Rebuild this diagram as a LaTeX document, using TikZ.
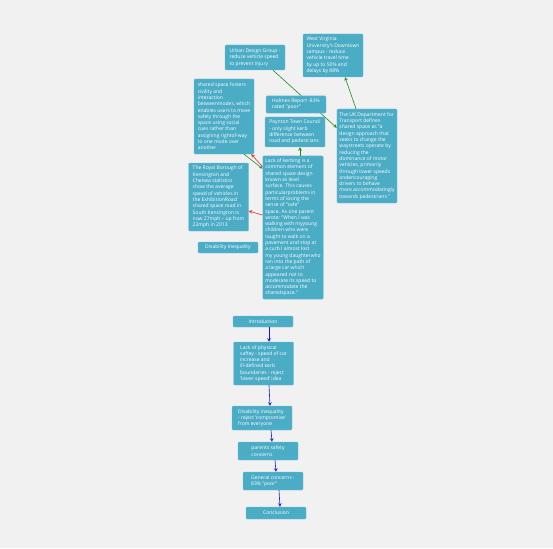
\documentclass[tikz,border=0pt]{standalone}
\usepackage{fontspec}
\setmainfont{Open Sans}
\usetikzlibrary{positioning}
\definecolor{paper}{RGB}{241,241,241}
\definecolor{boxfill}{RGB}{75,172,198}
\definecolor{boxline}{RGB}{120,196,216}
\definecolor{linkgreen}{RGB}{30,140,30}
\definecolor{linkred}{RGB}{240,40,40}
\definecolor{linkblue}{RGB}{20,20,230}
\pgfdeclarelayer{back}
\pgfsetlayers{back,main}

\begin{document}
\begin{tikzpicture}
[x=1pt,y=-1pt,>=stealth,box/.style = {draw = boxline, fill = boxfill, text = white, rounded corners = 1pt, align = left, inner xsep = 2.5pt, inner ysep = 3pt, minimum width = 60, font = \fontsize{5}{6.3}\selectfont},
green link/.style = {->, draw = linkgreen, line width = 0.6pt},
red link/.style = {->, draw = linkred, line width = 0.6pt},
blue link/.style = {->, draw = linkblue, line width = 0.6pt},]
\begin{pgfonlayer}{back}
\fill[paper] (0,0) rectangle (553,548);
\end{pgfonlayer}
\node (UDG) at (255,57.5)[box,minimum height=25] {Urban Design Group -\\reduce vehicle speed\\to prevent injury};
\node (WVU) at (333,55.5)[box,minimum height=43] {West Virginia\\University's Downtown\\campus - reduce\\vehicle travel time\\by up to 50\% and\\delays by 88\%};
\node (SSF) at (224,116.5)[box,minimum height=75] {shared space fosters\\civility and\\interaction\\betweenmodes, which\\enables users to move\\safely through the\\space using social\\cues rather than\\assigning rightof-way\\to one mode over\\another};
\node (HR) at (296,104.5)[box,minimum height=17] {Holmes Report -83\%\\rated "poor"};
\node (PTC) at (295,132)[box,minimum height=30] {Poynton Town Council\\- only slight kerb\\difference between\\road and pedestrians};
\node (DFT) at (367,156)[box,minimum height=94] {The UK Department for\\Transport defines\\shared space as "a\\design approach that\\seeks to change the\\waystreets operate by\\reducing the\\dominance of motor\\vehicles, primarily\\through lower speeds\\andencouraging\\drivers to behave\\more accommodatingly\\towards pedestrians."};
\node (LK) at (293,227.5)[box,minimum height=143] {Lack of kerbing is a\\common element of\\shared space design\\known as level\\surface. This causes\\particularproblems in\\terms of losing the\\sense of "safe"\\space. As one parent\\wrote: "When I was\\walking with myyoung\\children who were\\taught to walk on a\\pavement and stop at\\a curb I almost lost\\my young daughterwho\\ran into the path of\\a large car which\\appeared not to\\moderate its speed to\\accommodate the\\sharedspace."};
\node (RBK) at (218.5,197)[box,minimum height=68] {The Royal Borough of\\Kensington and\\Chelsea statistics\\show the average\\speed of vehicles in\\the ExhibitionRoad\\shared space road in\\South Kensington is\\now 27mph – up from\\22mph in 2013};
\node (DI) at (228,247.5)[box,minimum height=11] {Disability Inequality};
\node (I) at (263,321.5)[box,minimum height=11] {Introduction};
\node (LPS) at (263.5,363.5)[box,minimum height=43] {Lack of physical\\saftey - speed of car\\increase and\\ill-defined kerb\\boundaries - reject\\'lower speed' idea};
\node (DII) at (262,418)[box,minimum height=24] {Disability inequality\\- reject 'compromise'\\from everyone};
\node (PSC) at (268,451)[box,minimum height=18] {parents safety\\concerns};
\node (GC) at (273,481)[box,minimum height=18] {General concerns -\\83\% "poor"};
\node (C) at (276,513)[box,minimum height=12] {Conclusion};
\begin{pgfonlayer}{back}
\draw[green link] ([xshift=18]UDG.south)--([yshift=-19]DFT.north west);
\end{pgfonlayer}
\draw[green link] ([xshift=-11]DFT.north)--([xshift=12]WVU.south);
\draw[green link] ([xshift=7]LK.north)--([xshift=5]PTC.south);
\draw[green link] ([xshift=20]SSF.south)--([yshift=-13]LK.north west);
\draw[red link] ([yshift=-11]LK.north west)--([xshift=-3]SSF.south east);
\draw[red link] ([yshift=12.5]LK.west)--([yshift=-14]RBK.east);
\draw[blue link] ([xshift=6]I.south)--([xshift=5.5]LPS.north);
\draw[blue link] ([xshift=5.5]LPS.south)--([xshift=8]DII.north);
\draw[blue link] ([xshift=9]DII.south)--([xshift=4]PSC.north);
\draw[blue link] ([xshift=7]PSC.south)--([xshift=3]GC.north);
\draw[blue link] ([xshift=6]GC.south)--([xshift=4]C.north);
\end{tikzpicture}
\end{document}
